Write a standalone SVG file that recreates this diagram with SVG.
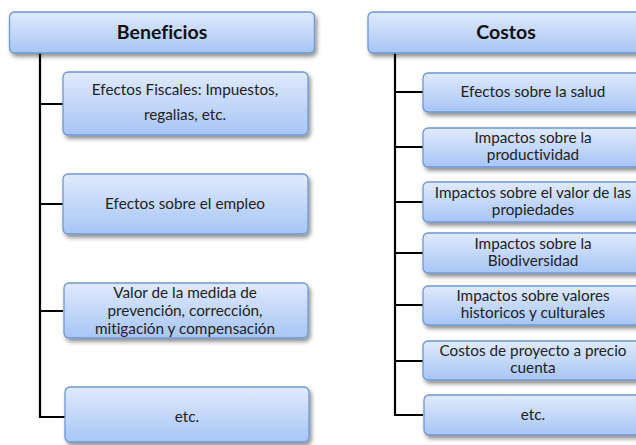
<svg xmlns="http://www.w3.org/2000/svg" width="636" height="445" viewBox="0 0 636 445">
<defs>
<linearGradient id="g" x1="0" y1="0" x2="0" y2="1">
<stop offset="0" stop-color="#e0eafc"/>
<stop offset="1" stop-color="#a7c5f5"/>
</linearGradient>
<filter id="sh" x="-10%" y="-20%" width="130%" height="160%">
<feGaussianBlur in="SourceAlpha" stdDeviation="2"/>
<feOffset dx="2" dy="3" result="b"/>
<feComponentTransfer><feFuncA type="linear" slope="0.45"/></feComponentTransfer>
<feMerge><feMergeNode/><feMergeNode in="SourceGraphic"/></feMerge>
</filter>
</defs>
<style>
.box{fill:url(#g);stroke:#6f97d3;stroke-width:1.3;filter:url(#sh)}
.t{font-family:Lato,"Liberation Sans",sans-serif;font-size:15.3px;fill:#222;text-anchor:middle;font-variant-ligatures:none}
.h{font-family:Lato,"Liberation Sans",sans-serif;font-size:19.5px;font-weight:bold;fill:#111;text-anchor:middle;font-variant-ligatures:none}
.c{fill:none;stroke:#000;stroke-width:2.2}
</style>
<rect width="636" height="445" fill="#fff"/>
<g id="connectors">
<path class="c" d="M40 53 V417 H65 M40 104 H63 M40 204 H63 M40 311 H63"/>
<path class="c" d="M395 53 V415 H423 M395 92 H423 M395 147 H423 M395 202 H423 M395 253 H423 M395 305 H423 M395 361 H423"/>
</g>
<g id="beneficios"><rect class="box" x="9.5" y="12" width="305" height="41" rx="5"/><text class="h" x="162" y="39">Beneficios</text></g>
<g id="b1"><rect class="box" x="63" y="72" width="245" height="63" rx="5"/><text class="t" x="185" y="95">Efectos Fiscales: Impuestos,</text><text class="t" x="185" y="120">regalias, etc.</text></g>
<g id="b2"><rect class="box" x="63" y="174" width="245" height="60" rx="5"/><text class="t" x="185" y="209">Efectos sobre el empleo</text></g>
<g id="b3"><rect class="box" x="64" y="283" width="244" height="55" rx="5"/><text class="t" x="185" y="298">Valor de la medida de</text><text class="t" x="185" y="316">prevención, corrección,</text><text class="t" x="185" y="334">mitigación y compensación</text></g>
<g id="b4"><rect class="box" x="65" y="387" width="244" height="55" rx="5"/><text class="t" x="187" y="422">etc.</text></g>
<g id="costos"><rect class="box" x="368" y="12" width="276" height="41" rx="5"/><text class="h" x="506" y="39">Costos</text></g>
<g id="c1"><rect class="box" x="423" y="73" width="220" height="39" rx="5"/><text class="t" x="533" y="97">Efectos sobre la salud</text></g>
<g id="c2"><rect class="box" x="423" y="128" width="220" height="39" rx="5"/><text class="t" x="533" y="143">Impactos sobre la</text><text class="t" x="533" y="160">productividad</text></g>
<g id="c3"><rect class="box" x="423" y="182" width="220" height="40" rx="5"/><text class="t" x="533" y="198">Impactos sobre el valor de las</text><text class="t" x="533" y="215">propiedades</text></g>
<g id="c4"><rect class="box" x="423" y="233" width="220" height="40" rx="5"/><text class="t" x="533" y="249">Impactos sobre la</text><text class="t" x="533" y="266">Biodiversidad</text></g>
<g id="c5"><rect class="box" x="423" y="286" width="220" height="39" rx="5"/><text class="t" x="533" y="301">Impactos sobre valores</text><text class="t" x="533" y="318">historicos y culturales</text></g>
<g id="c6"><rect class="box" x="423" y="341" width="220" height="39" rx="5"/><text class="t" x="533" y="356">Costos de proyecto a precio</text><text class="t" x="533" y="373">cuenta</text></g>
<g id="c7"><rect class="box" x="424" y="395" width="220" height="40" rx="5"/><text class="t" x="533" y="420">etc.</text></g>
</svg>
